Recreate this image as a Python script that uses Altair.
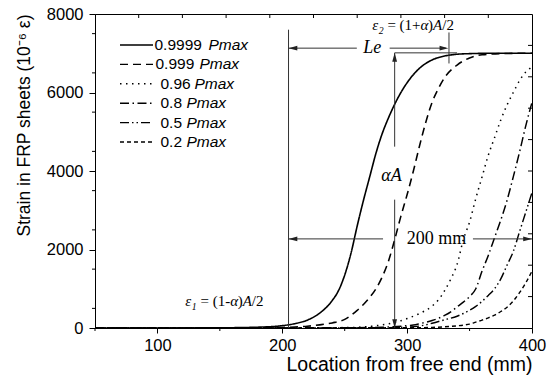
import altair as alt
import pandas as pd

# ---------------- strain profiles (x: mm from free end, strain: 1e-6) ----------------
series_names = ["0.9999", "0.999", "0.96", "0.8", "0.5", "0.2"]

x_9999 = [50, 100, 150, 180, 200, 210, 220, 230, 240, 245, 250, 255, 260, 265, 270,
          275, 280, 285, 290, 295, 300, 310, 320, 330, 340, 350, 370, 400]
y_9999 = [0, 0, 5, 20, 60, 110, 200, 380, 700, 950, 1350, 1900, 2600, 3250, 3850,
          4450, 4950, 5350, 5700, 6000, 6250, 6620, 6830, 6930, 6975, 6990, 7000, 7000]

x_999 = [50, 150, 200, 210, 220, 230, 240, 250, 260, 265, 270, 275, 280, 285, 290,
         295, 300, 305, 310, 315, 320, 325, 330, 340, 350, 360, 380, 400]
y_999 = [0, 3, 15, 25, 45, 80, 130, 220, 450, 600, 780, 1000, 1300, 1700, 2250,
         2850, 3400, 4000, 4650, 5250, 5750, 6100, 6380, 6700, 6880, 6960, 6995, 7000]

x_96 = [50, 200, 250, 270, 280, 290, 300, 310, 320, 325, 330, 335, 340, 345, 350,
        355, 360, 365, 370, 375, 380, 385, 390, 395, 400]
y_96 = [0, 2, 10, 40, 80, 140, 240, 370, 560, 715, 950, 1250, 1620, 2250, 2700,
        3300, 3850, 4400, 4850, 5300, 5680, 6000, 6300, 6520, 6650]

x_8 = [50, 250, 280, 300, 305, 310, 320, 330, 337, 340, 345, 350, 355, 360, 365,
       370, 375, 380, 385, 390, 395, 400]
y_8 = [0, 5, 20, 60, 77, 110, 190, 320, 460, 540, 660, 800, 1000, 1450, 1850,
       2300, 2750, 3250, 3850, 4480, 5150, 5750]

x_5 = [50, 280, 300, 310, 320, 330, 340, 345, 350, 355, 360, 365, 370, 375, 380,
       385, 390, 395, 400]
y_5 = [0, 5, 20, 50, 120, 210, 300, 370, 450, 550, 680, 830, 1000, 1250, 1600,
       1950, 2450, 2950, 3450]

x_2 = [50, 300, 320, 330, 340, 346, 350, 355, 360, 365, 370, 375, 380, 385, 390,
       395, 400]
y_2 = [0, 5, 15, 30, 55, 77, 100, 150, 200, 260, 330, 420, 530, 690, 900,
       1150, 1450]

curves = list(zip(series_names, [x_9999, x_999, x_96, x_8, x_5, x_2],
                  [y_9999, y_999, y_96, y_8, y_5, y_2]))

rows = []
for name, xs, ys in curves:
    for i, (a, b) in enumerate(zip(xs, ys)):
        rows.append({"series": name, "x": a, "y": b, "i": i})
df = pd.DataFrame(rows)

# tick positions
x_major = [100, 200, 300, 400]
x_minor = [50, 150, 250, 350]
y_major = [0, 1000, 2000, 3000, 4000, 5000, 6000, 7000, 8000]
y_minor = [500, 1500, 2500, 3500, 4500, 5500, 6500, 7500]
x_top = [85, 120, 155, 190, 225, 260, 295, 330, 365]
y_right = [800, 1600, 2400, 3200, 4000, 4800, 5600, 6400, 7200]

# annotation geometry (data units)
seg_x = [205, 205, 286, 333.5, 290, 290, 290, 205, 352.7]
seg_x2 = [205, 259.7, 331, 333.5, 290, 340, 290, 280.7, 400]
seg_y = [0, 7130, 7130, 6740, 4620, 7010, 0, 2270, 2270]
seg_y2 = [7600, 7130, 7130, 7530, 7010, 7010, 3270, 2270, 2270]

arrow_x = [205, 333, 290, 290, 205, 400]
arrow_y = [7130, 7130, 7010, 0, 2270, 2270]
arrow_dir = [0, 180, 90, 270, 0, 180]

# ---------------- styles ----------------
W, H = 437, 314
SANS = "Liberation Sans"
SERIF = "Liberation Serif"
dash_styles = [[1, 0], [8, 5], [1.5, 4.5], [9, 3.5, 1.5, 3.5], [9, 3, 1.5, 3, 1.5, 3], [4, 3]]
line_widths = [1.6, 1.4, 1.6, 1.4, 1.4, 1.4]

xscale = alt.Scale(domain=[50, 400], nice=False, zero=False)
yscale = alt.Scale(domain=[0, 8000], nice=False)

x_axis = alt.Axis(values=x_major, format="d", title="Location from free end (mm)", titleAnchor="end",
                  titleFont=SANS, titleFontSize=19.5, titleFontWeight="normal", titleColor="black",
                  titlePadding=2, labelFont=SANS, labelFontSize=16.5, labelColor="black",
                  labelPadding=4, labelFlush=False, tickSize=5, tickColor="black",
                  domainColor="black", grid=False)
y_axis = alt.Axis(values=y_major, format="d", title="Strain in FRP sheets (10⁻⁶ ε)", titleAnchor="end",
                  titleFont=SANS, titleFontSize=17.5, titleFontWeight="normal", titleColor="black",
                  titlePadding=13, labelFont=SANS, labelFontSize=16.5, labelColor="black",
                  labelPadding=6, labelFlush=False, tickSize=6, tickColor="black",
                  domainColor="black", grid=False)

lines = alt.Chart(df).mark_line(color="black", interpolate="monotone").encode(
    x=alt.X("x:Q", scale=xscale, axis=x_axis),
    y=alt.Y("y:Q", scale=yscale, axis=y_axis),
    strokeDash=alt.StrokeDash("series:N", scale=alt.Scale(domain=series_names, range=dash_styles), legend=None),
    strokeWidth=alt.StrokeWidth("series:N", scale=alt.Scale(domain=series_names, range=line_widths), legend=None),
    detail="series:N",
    order="i:Q",
)

# minor and frame ticks
tick_layers = [
    alt.Chart(pd.DataFrame({"x": x_minor})).mark_rule(color="black").encode(
        x=alt.X("x:Q", scale=xscale), y=alt.value(H), y2=alt.value(H + 3)),
    alt.Chart(pd.DataFrame({"y": y_minor})).mark_rule(color="black").encode(
        y=alt.Y("y:Q", scale=yscale), x=alt.value(0), x2=alt.value(-3)),
    alt.Chart(pd.DataFrame({"x": x_top})).mark_rule(color="black").encode(
        x=alt.X("x:Q", scale=xscale), y=alt.value(0), y2=alt.value(4)),
    alt.Chart(pd.DataFrame({"y": y_right})).mark_rule(color="black").encode(
        y=alt.Y("y:Q", scale=yscale), x=alt.value(W), x2=alt.value(W - 4)),
]

segs = alt.Chart(pd.DataFrame({"x": seg_x, "x2": seg_x2, "y": seg_y, "y2": seg_y2})).mark_rule(
    color="#333333", strokeWidth=1).encode(
    x=alt.X("x:Q", scale=xscale), x2="x2:Q", y=alt.Y("y:Q", scale=yscale), y2="y2:Q")

arrows = alt.Chart(pd.DataFrame({"x": arrow_x, "y": arrow_y, "a": arrow_dir})).mark_point(
    shape="M0,0L2.2,-0.6L2.2,0.6Z", filled=True, color="#222222", opacity=1, size=64).encode(
    x=alt.X("x:Q", scale=xscale), y=alt.Y("y:Q", scale=yscale), angle=alt.Angle("a:Q", scale=None))


def label(x, y, text, **kw):
    return alt.Chart(pd.DataFrame({"x": [x], "y": [y]})).mark_text(
        text=text, color="black", **kw).encode(
        x=alt.X("x:Q", scale=xscale), y=alt.Y("y:Q", scale=yscale))


# Times metrics (em) for laying out mixed-style formula pieces
em = {"(": .333, ")": .333, "1": .5, "2": .5, "+": .564, "-": .333, "=": .564, "/": .278,
      " ": .25, "A": .611, "α": .5, "ε": .44}


def formula(x, y, sub, sign, size=15):
    parts = [("ε", "italic", size, 0), (sub, "italic", size * 0.65, 4),
             (" = (1" + sign, "normal", size, 0), ("α", "italic", size, 0),
             (")", "normal", size, 0), ("A", "italic", size, 0), ("/2", "normal", size, 0)]
    out, off = [], 0.0
    for txt, style, fs, dy in parts:
        # leading blanks collapse in SVG text, so turn them into an offset
        while txt.startswith(" "):
            off += em[" "] * fs
            txt = txt[1:]
        out.append(label(x, y, txt, font=SERIF, fontSize=fs, fontStyle=style,
                         align="left", baseline="alphabetic", dx=off, dy=dy))
        off += sum(em.get(c, .5) for c in txt) * fs
    return out


annotations = [
    label(272, 7130, "Le", font=SERIF, fontSize=18, fontStyle="italic", align="center", baseline="middle"),
    label(287.5, 3860, "αA", font=SERIF, fontSize=18, fontStyle="italic", align="center", baseline="middle"),
    label(323.5, 2270, "200 mm", font=SERIF, fontSize=18, align="center", baseline="middle"),
] + formula(272, 7590, "2", "+") + formula(122.3, 562, "1", "-")

# key drawn inside the plot area
legend_layers = []
key_y0, key_dy = 31, 19.4
num_x = [59.5, 60.5, 65.5, 65.5, 65.5, 65.5]
pmax_x = [113.4, 104.4, 99.4, 91.4, 91.4, 91.4]
one = pd.DataFrame({"k": [0]})
for i, name in enumerate(series_names):
    yy = key_y0 + key_dy * i
    legend_layers.append(alt.Chart(one).mark_rule(
        color="black", strokeDash=dash_styles[i], strokeWidth=line_widths[i]).encode(
        x=alt.value(25), x2=alt.value(58), y=alt.value(yy)))
    legend_layers.append(alt.Chart(one).mark_text(
        text=name, font=SANS, fontSize=15.5, align="left", baseline="middle", color="black").encode(
        x=alt.value(num_x[i]), y=alt.value(yy)))
    legend_layers.append(alt.Chart(one).mark_text(
        text="Pmax", font=SANS, fontSize=15.5, fontStyle="italic", align="left", baseline="middle",
        color="black").encode(x=alt.value(pmax_x[i]), y=alt.value(yy)))

chart = alt.layer(lines, *tick_layers, segs, arrows, *annotations, *legend_layers).properties(
    width=W, height=H,
    autosize=alt.AutoSizeParams(type="none"),
    padding={"left": 95, "top": 14, "right": 18, "bottom": 48},
).configure_view(stroke="black", strokeWidth=1).configure_axis(domainWidth=1, tickWidth=1)

chart.save("out.html", embed_options={"renderer": "svg", "actions": False})
